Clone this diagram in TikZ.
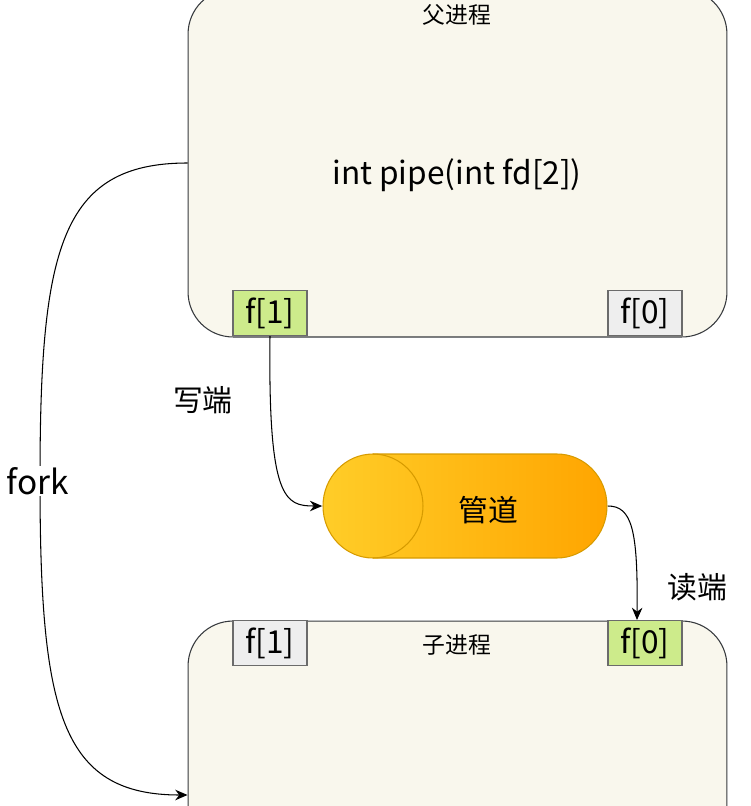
\documentclass[tikz,border=0pt]{standalone}
\usepackage{fontspec}
\setmainfont{Noto Sans CJK SC}
\usepackage{xcolor}
\usepackage{tikz}
\usetikzlibrary{positioning, arrows.meta}
\definecolor{pcfill}{HTML}{F9F7ED}
\definecolor{pcdraw}{HTML}{36393D}
\definecolor{fdgreen}{HTML}{CDEB8B}
\definecolor{fdgray}{HTML}{EEEEEE}
\definecolor{fddraw}{HTML}{6B6B6B}
\definecolor{pipeleft}{HTML}{FFCD28}
\definecolor{piperight}{HTML}{FFA500}
\definecolor{pipedraw}{HTML}{D79B00}

\begin{document}
\begin{tikzpicture}[
  x=0.02cm, y=-0.02cm,
  proc/.style={
    rectangle, rounded corners=0.9cm, draw=pcdraw, fill=pcfill,
    minimum width=10.78cm, minimum height=6.96cm, line width=0.6pt
  },
  fd/.style={
    rectangle, draw=fddraw, minimum width=1.48cm, minimum height=0.9cm,
    inner sep=0pt, font=\fontsize{18}{20}\selectfont, line width=0.6pt
  },
  title/.style={font=\fontsize{13}{15}\selectfont, inner sep=0pt},
  lbl/.style={font=\fontsize{17}{20}\selectfont, inner sep=1pt},
  arr/.style={-{Stealth[length=7pt, width=6pt]}, line width=0.6pt},
]
\clip (0,0) rectangle (751,806);

% Parent process
\node[proc] (parent) at (457.5,163) {};
\node[title] (ptitle) at (457,15) {父进程};
\node[font=\fontsize{18}{20}\selectfont] (pipecall) at (457,175) {int pipe(int fd[2])};
\node[fd, fill=fdgreen] (pf1) at (270,313) {f[1]};
\node[fd, fill=fdgray] (pf0) at (645,313) {f[0]};

% Child process
\node[proc] (child) at (457.5,795) {};
\node[title] (ctitle) at (457,645) {子进程};
\node[fd, fill=fdgray] (cf1) at (270,643) {f[1]};
\node[fd, fill=fdgreen] (cf0) at (645,643) {f[0]};

% Pipe
\shade[left color=pipeleft, right color=piperight, draw=pipedraw, line width=0.6pt]
  (373,454) -- (557,454)
  arc[start angle=90, end angle=-90, x radius=1cm, y radius=1.04cm]
  -- (373,558)
  arc[start angle=270, end angle=90, x radius=1cm, y radius=1.04cm] -- cycle;
\draw[pipedraw, line width=0.6pt] (373,454)
  arc[start angle=90, end angle=-90, x radius=1cm, y radius=1.04cm];
\node[minimum width=5.7cm, minimum height=2.08cm] (pipe) at (465,506) {};
\node[lbl] (pipetext) at (488,510) {管道};

% Arrows
\draw[arr] (pf1.south) .. controls (268,500) and (285,506) .. (pipe.west);
\draw[arr] (pipe.east) .. controls (632,506) and (638,530) .. ([xshift=-0.16cm]cf0.north);
\draw[arr] (parent.west) .. controls (60,163) and (40,250) .. (40,480)
  .. controls (40,710) and (60,795) .. (child.west);

% Labels
\node[lbl] (write) at (203,400) {写端};
\node[lbl] (read) at (697,587) {读端};
\node[lbl, fill=white, font=\fontsize{19}{22}\selectfont] (fork) at (38,481) {fork};

\end{tikzpicture}
\end{document}
